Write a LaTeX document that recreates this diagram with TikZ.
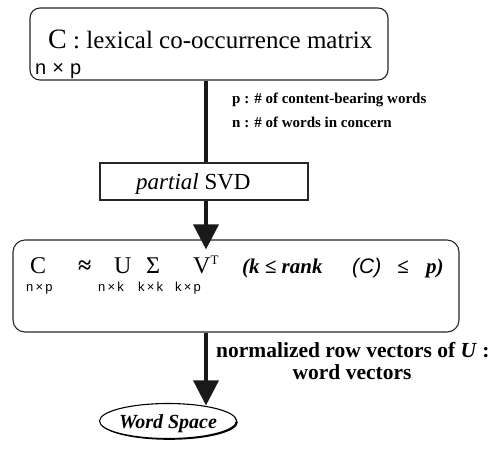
\documentclass[tikz,border=0pt]{standalone}
\usepackage{fontspec}
\setmainfont{Liberation Serif}
\newfontfamily\sansf{Liberation Sans}
\usetikzlibrary{arrows.meta,shapes.geometric,shadows}
\newcommand{\fsz}[1]{\fontsize{#1}{#1}\selectfont}
\begin{document}
\begin{tikzpicture}[x=1pt,y=-1pt,
  frame/.style={draw=black!85, line width=1.1pt, inner sep=0pt},
  flow/.style={line width=3.4pt, draw=black!90},
  arr/.style={flow, -{Triangle[width=25pt,length=25pt]}},
  lbl/.style={inner sep=0pt, anchor=base west},
  ctr/.style={inner sep=0pt, anchor=base},
  dimtext/.style={lbl, font=\sansf\fsz{13}},
  formula/.style={lbl, font=\fsz{24}},
  cond/.style={lbl, font=\fsz{21}\bfseries\itshape},
]
\useasboundingbox (0,0) rectangle (494,459);

% vertical axis shared by the connectors
\coordinate (ax) at (206,0);

% input matrix
\node[frame, rounded corners=10pt, minimum width=358pt, minimum height=72pt] (top) at (209,44) {};
\node[lbl, font=\fsz{25}] (ttl) at (48,48) {{\fsz{28}C} : lexical co-occurrence matrix};
\node[lbl, font=\sansf\fsz{20}] (tdim) at (35,74) {n\hspace{6pt}×\hspace{6pt}p};

% partial SVD step
\node[frame, minimum width=208pt, minimum height=37pt] (svd) at (204,181.5) {};
\node[lbl, font=\fsz{23}] (svdt) at (136,189) {\textit{partial} SVD};

\draw[flow] (top.south -| ax) -- (svd.north -| ax);
\node[lbl, font=\fsz{15}\bfseries] (plab) at (232,103) {p : \# of content-bearing words};
\node[lbl, font=\fsz{15}\bfseries] (nlab) at (232,127) {n : \# of words in concern};

% decomposition
\node[frame, rounded corners=12pt, minimum width=446pt, minimum height=92pt] (main) at (236,286) {};
\draw[arr, shorten >=-10pt] (svd.south -| ax) -- (main.north -| ax);

\node[formula] (fC) at (30,273) {C};
\node[formula, font=\fsz{24}\bfseries] (fap) at (78,273) {≈};
\node[formula] (fU) at (114,273) {U};
\node[formula] (fS) at (146,273) {Σ};
\node[formula] (fV) at (193,273) {V\raisebox{9pt}{\fsz{13}T}};
\node[dimtext] (dC) at (26,291) {n\,×\,p};
\node[dimtext] (dU) at (98,291) {n\,×\,k};
\node[dimtext] (dS) at (138,291) {k\,×\,k};
\node[dimtext] (dV) at (175,291) {k\,×\,p};

\node[cond] (c1) at (242,273) {(k ≤ rank};
\node[lbl, font=\sansf\fsz{21}\itshape] (c2) at (352,273) {(C)};
\node[cond] (c3) at (397,273) {≤};
\node[cond] (c4) at (426,273) {p)};

% word space
\node[draw, ellipse, line width=1.1pt, inner sep=0pt, fill=white,
      minimum width=137pt, minimum height=35pt,
      drop shadow={shadow xshift=1.3pt, shadow yshift=-1.3pt, opacity=1, fill=black}] (ws) at (168,421) {};
\node[ctr, font=\fsz{20}\bfseries\itshape] (wst) at (168,428) {Word Space};
\draw[arr, shorten >=-2.5pt] (main.south -| ax) -- (ws.north -| ax);

\node[lbl, font=\fsz{21.5}\bfseries] (vlab) at (216,357) {normalized row vectors of \textit{U} :};
\node[ctr, font=\fsz{21.5}\bfseries] (vlab2) at (352,379) {word vectors};
\end{tikzpicture}
\end{document}
